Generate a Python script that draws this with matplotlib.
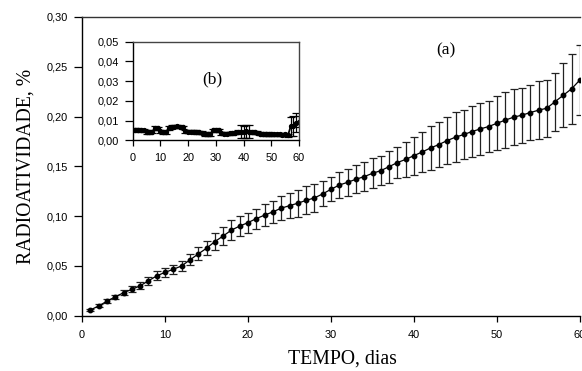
import matplotlib
matplotlib.use("Agg")
import matplotlib.pyplot as plt
from matplotlib.ticker import FuncFormatter

# ---- main series (a) ----
days = list(range(1, 61))
radio_a = [0.0057, 0.0098, 0.0145, 0.0190, 0.0230, 0.0265, 0.0300, 0.0350, 0.0400, 0.0435,
           0.0466, 0.0500, 0.0560, 0.0620, 0.0677, 0.0744, 0.0800, 0.0860, 0.0900, 0.0935,
           0.0975, 0.1010, 0.1043, 0.1080, 0.1105, 0.1130, 0.1158, 0.1183, 0.1223, 0.1270,
           0.1312, 0.1340, 0.1370, 0.1397, 0.1430, 0.1457, 0.1497, 0.1538, 0.1570, 0.1608,
           0.1645, 0.1685, 0.1719, 0.1759, 0.1793, 0.1820, 0.1850, 0.1876, 0.1900, 0.1933,
           0.1964, 0.1994, 0.2014, 0.2040, 0.2064, 0.2084, 0.2150, 0.2215, 0.2280, 0.2369]
err_a = [0.0012, 0.0015, 0.0020, 0.0022, 0.0025, 0.0030, 0.0035, 0.0040, 0.0045, 0.0045,
         0.0045, 0.0048, 0.0055, 0.0065, 0.0070, 0.0085, 0.0090, 0.0097, 0.0097, 0.0100,
         0.0100, 0.0110, 0.0110, 0.0123, 0.0128, 0.0134, 0.0140, 0.0140, 0.0125, 0.0120,
         0.0134, 0.0134, 0.0140, 0.0145, 0.0150, 0.0148, 0.0160, 0.0158, 0.0178, 0.0190,
         0.0205, 0.0220, 0.0226, 0.0240, 0.0250, 0.0250, 0.0260, 0.0260, 0.0260, 0.0270,
         0.0280, 0.0280, 0.0277, 0.0280, 0.0290, 0.0286, 0.0290, 0.0320, 0.0350, 0.0350]

# ---- inset series (b) ----
radio_b = [0.0052, 0.0053, 0.0051, 0.0050, 0.0042, 0.0040, 0.0043, 0.0062, 0.0060, 0.0045,
           0.0040, 0.0042, 0.0062, 0.0068, 0.0069, 0.0070, 0.0068, 0.0066, 0.0045, 0.0044,
           0.0043, 0.0044, 0.0042, 0.0040, 0.0038, 0.0032, 0.0030, 0.0032, 0.0050, 0.0052,
           0.0050, 0.0035, 0.0034, 0.0033, 0.0035, 0.0036, 0.0038, 0.0042, 0.0044, 0.0043,
           0.0045, 0.0044, 0.0042, 0.0040, 0.0038, 0.0033, 0.0032, 0.0031, 0.0032, 0.0030,
           0.0031, 0.0030, 0.0030, 0.0029, 0.0030, 0.0025, 0.0070, 0.0072, 0.0090, 0.0095]
err_b = [0.0008] * 38 + [0.0032, 0.0032, 0.0032, 0.0032] + [0.0008] * 14 + [0.0050, 0.0050, 0.0050, 0.0030]

main_yticks = [0.00, 0.05, 0.10, 0.15, 0.20, 0.25, 0.30]
main_xticks = [0, 10, 20, 30, 40, 50, 60]
inset_yticks = [0.00, 0.01, 0.02, 0.03, 0.04, 0.05]
inset_xticks = [0, 10, 20, 30, 40, 50, 60]

W, H = 582, 371
fig = plt.figure(figsize=(W / 100, H / 100), dpi=100)

comma = FuncFormatter(lambda v, p: f"{v:.2f}".replace(".", ","))
TICKFAM = "Liberation Sans"
TICKSIZE = 7.9
serif = "Liberation Serif"

# main axes
ax = fig.add_axes([82 / W, 1 - 315.7 / H, (580 - 82) / W, (315.7 - 17) / H])
ax.errorbar(days, radio_a, yerr=err_a, fmt="-o", color="black", ms=3.2, lw=0.9,
            elinewidth=0.9, capsize=3.2, capthick=0.9, ecolor="#222222")
ax.set_xlim(0, 60)
ax.set_ylim(0, 0.30)
ax.set_xticks(main_xticks)
ax.set_yticks(main_yticks)
ax.yaxis.set_major_formatter(comma)
ax.spines["right"].set_visible(False)
ax.spines["top"].set_color("#333333")
for s in ["left", "bottom", "top"]:
    ax.spines[s].set_linewidth(1.0)
ax.tick_params(axis="x", direction="out", length=4, width=0.9, pad=6)
ax.tick_params(axis="y", direction="out", length=6, width=0.9, pad=4)
for lab in ax.get_xticklabels() + ax.get_yticklabels():
    lab.set_fontfamily(TICKFAM)
    lab.set_fontsize(TICKSIZE)
ax.set_xlabel("TEMPO, dias", family=serif, fontsize=14.2)
ax.xaxis.set_label_coords(0.523, -0.114)
ax.set_ylabel("RADIOATIVIDADE, %", family=serif, fontsize=14.2)
ax.yaxis.set_label_coords(-0.094, 0.5)
fig.text(446 / W, 1 - 50 / H, "(a)", fontsize=12.5, family=serif, ha="center", va="center")

# inset axes
ai = fig.add_axes([132.7 / W, 1 - 140.3 / H, (299 - 132.7) / W, (140.3 - 41.7) / H])
ai.errorbar(days, radio_b, yerr=err_b, fmt="-o", color="black", ms=2.8, lw=1.3,
            elinewidth=0.9, capsize=3.0, capthick=0.9)
ai.set_xlim(0, 60)
ai.set_ylim(0, 0.05)
ai.set_xticks(inset_xticks)
ai.set_yticks(inset_yticks)
ai.yaxis.set_major_formatter(comma)
for s in ai.spines.values():
    s.set_linewidth(1.0)
ai.spines["top"].set_color("#444444")
ai.spines["right"].set_color("#444444")
ai.tick_params(axis="x", direction="out", length=4, width=0.9, pad=5)
ai.tick_params(axis="y", direction="out", length=6, width=0.9, pad=4)
for lab in ai.get_xticklabels() + ai.get_yticklabels():
    lab.set_fontfamily(TICKFAM)
    lab.set_fontsize(TICKSIZE)
fig.text(212 / W, 1 - 79 / H, "(b)", fontsize=12.5, family=serif, ha="center", va="center")

fig.savefig("out.png", dpi=100)
